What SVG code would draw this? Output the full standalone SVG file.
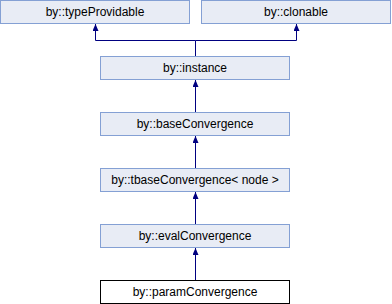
<svg xmlns="http://www.w3.org/2000/svg" width="392" height="304" viewBox="0 0 392 304">
<defs>
<marker id="ah" markerWidth="7" markerHeight="6" refX="7" refY="3" orient="auto" markerUnits="userSpaceOnUse" viewBox="0 0 7 6">
<path d="M0,0 L7,3 L0,6 Z" fill="#000080"/>
</marker>
<style>
.n rect{fill:#E8ECF5;stroke:#84A0D4;stroke-width:1}
.n.cur rect{fill:#FFFFFF;stroke:#000000}
.n text{font-family:"Liberation Sans",Arial,sans-serif;font-size:12px;fill:#000;text-anchor:middle}
.c path{fill:none;stroke:#000080;stroke-width:1}
</style>
</defs>
<rect width="392" height="304" fill="#FFFFFF"/>
<g class="c" id="connectors">
<path d="M195.5,56 V40.5 H95.5 V24" marker-end="url(#ah)"/>
<path d="M195.5,40.5 H296.5 V24" marker-end="url(#ah)"/>
<path d="M195.5,112 V80" marker-end="url(#ah)"/>
<path d="M195.5,168 V136" marker-end="url(#ah)"/>
<path d="M195.5,224 V192" marker-end="url(#ah)"/>
<path d="M195.5,280 V248" marker-end="url(#ah)"/>
</g>
<g class="n" id="typeProvidable"><rect x="0.5" y="0.5" width="189" height="23"/><text x="95" y="16">by::typeProvidable</text></g>
<g class="n" id="clonable"><rect x="201.5" y="0.5" width="189" height="23"/><text x="296" y="16">by::clonable</text></g>
<g class="n" id="instance"><rect x="100.5" y="56.5" width="189" height="23"/><text x="195" y="72">by::instance</text></g>
<g class="n" id="baseConvergence"><rect x="100.5" y="112.5" width="189" height="23"/><text x="195" y="128">by::baseConvergence</text></g>
<g class="n" id="tbaseConvergence"><rect x="100.5" y="168.5" width="189" height="23"/><text x="195" y="184">by::tbaseConvergence&lt; node &gt;</text></g>
<g class="n" id="evalConvergence"><rect x="100.5" y="224.5" width="189" height="23"/><text x="195" y="240">by::evalConvergence</text></g>
<g class="n cur" id="paramConvergence"><rect x="100.5" y="280.5" width="189" height="23"/><text x="195" y="296">by::paramConvergence</text></g>
</svg>
